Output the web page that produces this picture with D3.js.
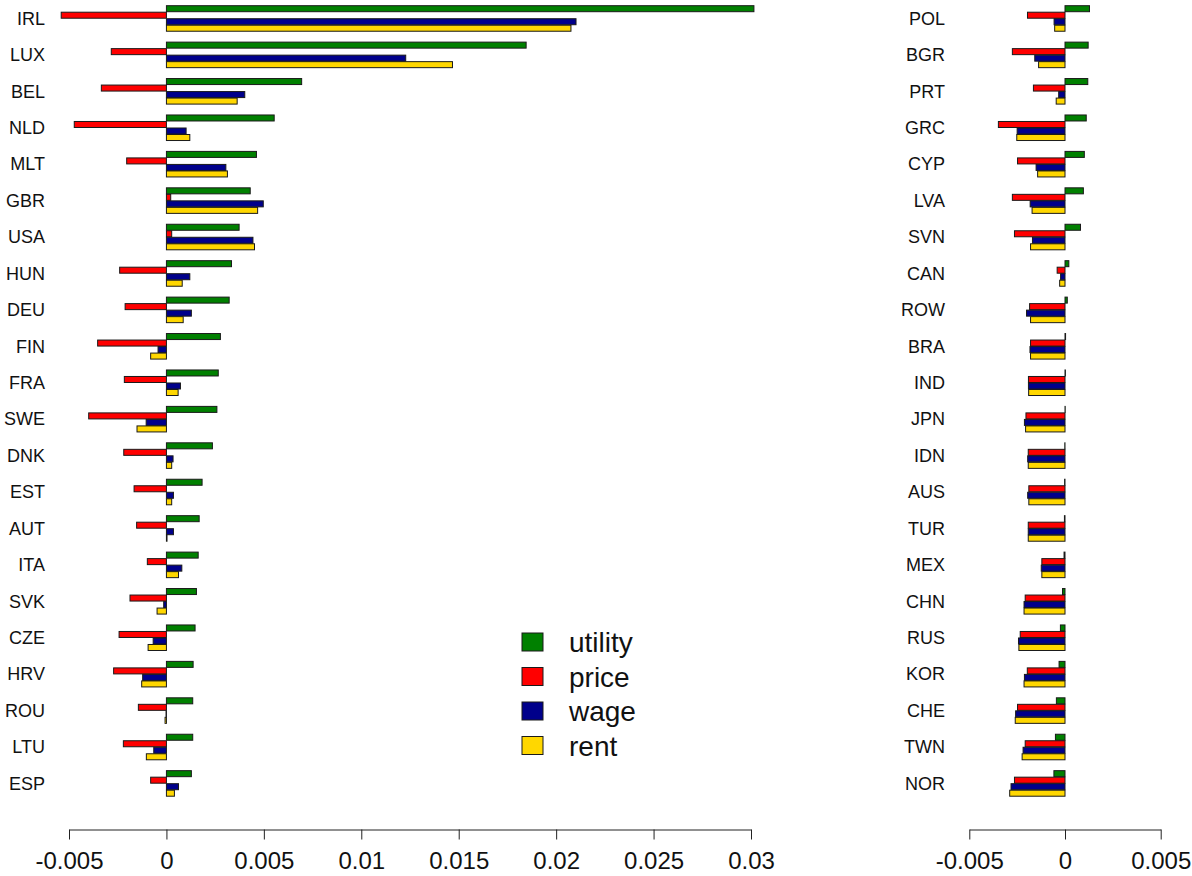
<!DOCTYPE html>
<html>
<head>
<meta charset="utf-8">
<script src="https://cdn.jsdelivr.net/npm/d3@7"></script>
<style>
  html, body { margin: 0; padding: 0; background: #fff; }
  svg { display: block; font-family: "Liberation Sans", Arial, sans-serif; }
</style>
</head>
<body>
<svg id="chart" width="1192" height="876"></svg>
<script>
const seriesNames = ["utility", "price", "wage", "rent"];
const seriesColors = ["#008000", "#ff0000", "#00008b", "#ffd700"];

const countriesLeft = ["IRL","LUX","BEL","NLD","MLT","GBR","USA","HUN","DEU","FIN","FRA","SWE","DNK","EST","AUT","ITA","SVK","CZE","HRV","ROU","LTU","ESP"];
const utilityLeft = [0.03015, 0.01846, 0.00694, 0.00553, 0.00462, 0.0043, 0.00373, 0.00334, 0.00322, 0.00277, 0.00266, 0.00259, 0.00236, 0.00183, 0.00168, 0.00163, 0.00154, 0.00147, 0.00137, 0.00135, 0.00135, 0.00128];
const priceLeft = [-0.0054, -0.00283, -0.00334, -0.00473, -0.00204, 0.00022, 0.00027, -0.0024, -0.00212, -0.00353, -0.00216, -0.00399, -0.00219, -0.00166, -0.00153, -0.00098, -0.00187, -0.00243, -0.00271, -0.00144, -0.00221, -0.00081];
const wageLeft = [0.02102, 0.01228, 0.00402, 0.00101, 0.00305, 0.00497, 0.00444, 0.0012, 0.00128, -0.00043, 0.00072, -0.00104, 0.00034, 0.00036, 0.00036, 0.00079, -0.00014, -0.00068, -0.00122, -0.00002, -0.00065, 0.00062];
const rentLeft = [0.02076, 0.01468, 0.00363, 0.0012, 0.00313, 0.00468, 0.00452, 0.00081, 0.00086, -0.00081, 0.0006, -0.00151, 0.00027, 0.00027, 0.00003, 0.00062, -0.00048, -0.00094, -0.00127, -0.00007, -0.00103, 0.00041];

const countriesRight = ["POL","BGR","PRT","GRC","CYP","LVA","SVN","CAN","ROW","BRA","IND","JPN","IDN","AUS","TUR","MEX","CHN","RUS","KOR","CHE","TWN","NOR"];
const utilityRight = [0.00128, 0.00121, 0.00119, 0.00111, 0.00101, 0.00096, 0.00081, 0.0002, 0.00012, 0.00003, 0.00002, 0.00001, -0.00001, -0.00002, -0.00003, -0.00005, -0.00013, -0.00024, -0.00031, -0.00045, -0.0005, -0.00058];
const priceRight = [-0.00196, -0.00275, -0.00165, -0.00348, -0.00248, -0.00275, -0.00264, -0.00041, -0.00185, -0.0018, -0.00191, -0.00204, -0.00192, -0.00189, -0.00192, -0.00121, -0.00208, -0.00234, -0.00197, -0.00248, -0.00208, -0.00264];
const wageRight = [-0.00057, -0.00158, -0.00033, -0.0025, -0.00151, -0.00182, -0.0017, -0.00023, -0.00201, -0.00183, -0.00191, -0.00212, -0.00195, -0.00195, -0.00192, -0.00124, -0.00214, -0.00243, -0.00212, -0.00258, -0.00219, -0.00282];
const rentRight = [-0.00054, -0.00138, -0.00046, -0.00252, -0.00143, -0.00172, -0.0018, -0.00028, -0.0018, -0.0018, -0.0019, -0.00206, -0.00192, -0.00189, -0.00192, -0.00121, -0.00214, -0.00241, -0.00214, -0.0026, -0.00224, -0.00289];

const ticksLeft = [-0.005, 0, 0.005, 0.01, 0.015, 0.02, 0.025, 0.03];
const tickLabelsLeft = ["-0.005", "0", "0.005", "0.01", "0.015", "0.02", "0.025", "0.03"];
const ticksRight = [-0.005, 0, 0.005];
const tickLabelsRight = ["-0.005", "0", "0.005"];

const svg = d3.select("#chart");
const axisY = 829.5;

function panel(countries, seriesVals, xDomain, xRange, labelX, ticks, tickLabels) {
  const g = svg.append("g");
  const x = d3.scaleLinear().domain(xDomain).range(xRange);
  const y = d3.scaleBand().domain(countries).range([0, 801.4])
    .paddingInner(0.285).paddingOuter(0.1425);
  const yInner = d3.scaleBand().domain(seriesNames).range([0, y.bandwidth()]);

  const rows = countries.map((c, i) => ({
    country: c,
    values: seriesNames.map((s, k) => ({ series: s, k: k, value: seriesVals[k][i] }))
  }));

  const grp = g.selectAll("g.row").data(rows).enter().append("g")
    .attr("class", "row")
    .attr("transform", d => `translate(0,${y(d.country)})`);

  grp.selectAll("rect").data(d => d.values).enter().append("rect")
    .attr("x", d => Math.min(x(0), x(d.value)))
    .attr("y", d => yInner(d.series) + 0.5)
    .attr("width", d => Math.abs(x(d.value) - x(0)))
    .attr("height", yInner.bandwidth() - 0.5)
    .attr("fill", d => seriesColors[d.k])
    .attr("stroke", "#1a1a1a")
    .attr("stroke-width", 1);

  g.selectAll("text.lab").data(countries).enter().append("text")
    .attr("class", "lab")
    .attr("x", labelX)
    .attr("y", d => y(d) + y.bandwidth() / 2)
    .attr("dy", "0.36em")
    .attr("text-anchor", "end")
    .attr("font-size", 18)
    .attr("fill", "#111")
    .text(d => d);

  const axis = d3.axisBottom(x).tickValues(ticks)
    .tickFormat((d, i) => tickLabels[i])
    .tickSize(10).tickSizeOuter(0).tickPadding(12);
  const ax = g.append("g").attr("transform", `translate(0,${axisY})`).call(axis);
  ax.select(".domain").attr("stroke", "#222");
  ax.selectAll(".tick line").attr("stroke", "#222");
  ax.selectAll(".tick text").attr("font-size", 24).attr("fill", "#111")
    .attr("font-family", "Liberation Sans, Arial, sans-serif");
}

panel(countriesLeft, [utilityLeft, priceLeft, wageLeft, rentLeft],
  [-0.005, 0.03], [69, 751], 45, ticksLeft, tickLabelsLeft);
panel(countriesRight, [utilityRight, priceRight, wageRight, rentRight],
  [-0.005, 0.005], [969.3, 1160.7], 945, ticksRight, tickLabelsRight);

// legend
const leg = svg.append("g").attr("transform", "translate(522,633)");
const li = leg.selectAll("g").data(seriesNames).enter().append("g")
  .attr("transform", (d, i) => `translate(0,${i * 34.5})`);
li.append("rect").attr("width", 21).attr("height", 18)
  .attr("fill", (d, i) => seriesColors[i]).attr("stroke", "#1a1a1a").attr("stroke-width", 1);
li.append("text").attr("x", 47).attr("y", 9).attr("dy", "0.36em")
  .attr("font-size", 28).attr("fill", "#111").text(d => d);
</script>
</body>
</html>
